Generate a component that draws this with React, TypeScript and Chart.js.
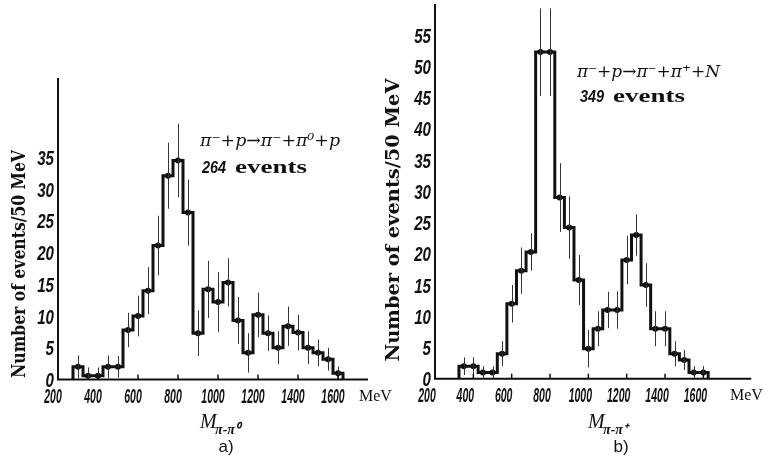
import React, { useEffect, useRef } from "react";
import { Chart, registerables } from "chart.js";

Chart.register(...registerables);

// ---------------- DATA ----------------
const BIN_WIDTH = 50; // MeV

// a) pi- p -> pi- pi0 p
const leftCenters = [300, 350, 400, 450, 500, 550, 600, 650, 700, 750, 800, 850, 900, 950, 1000, 1050, 1100, 1150, 1200, 1250, 1300, 1350, 1400, 1450, 1500, 1550, 1600];
const leftCounts = [2, 0.6, 0.6, 2, 2, 7.8, 10, 14, 21.1, 32.1, 34.5, 26.3, 7.3, 14.2, 12.2, 15.3, 9.3, 4.2, 10.2, 7.3, 5, 8.4, 7.4, 5, 4.2, 3.2, 1];
const leftErrors = [1.8, 1.3, 1.3, 1.8, 1.7, 2.7, 3.2, 3.7, 4.7, 5.2, 5.8, 5.2, 3.6, 4.5, 4.7, 3.8, 3.7, 3.1, 3.5, 2.8, 2.6, 3.1, 2.8, 2.6, 2.1, 1.8, 1.0];

// b) pi- p -> pi- pi+ N
const rightCenters = [350, 400, 450, 500, 550, 600, 650, 700, 750, 800, 850, 900, 950, 1000, 1050, 1100, 1150, 1200, 1250, 1300, 1350, 1400, 1450, 1500, 1550, 1600];
const rightCounts = [2, 2, 1, 1, 4, 12, 17.3, 20.3, 52.3, 52.3, 29, 24.2, 15.8, 4.8, 8, 11, 11, 19, 23, 15, 8, 8, 4, 3, 1, 1];
const rightErrors = [1.4, 1.4, 1, 1, 2, 3, 3.7, 3, 7, 7, 5.5, 5, 4, 3, 2.8, 2.9, 3, 3.9, 3.3, 3.5, 2.8, 2.8, 2, 1.6, 1, 1];

const xTickValues = [200, 400, 600, 800, 1000, 1200, 1400, 1600];
const leftYTicks = [0, 5, 10, 15, 20, 25, 30, 35];
const rightYTicks = [0, 5, 10, 15, 20, 25, 30, 35, 40, 45, 50, 55];

const yTitle = "Number of events/50 MeV";
const leftReaction = "π⁻+p→π⁻+π⁰+p";
const rightReaction = "π⁻+p→π⁻+π⁺+N";
const leftEvents = "264";
const rightEvents = "349";
const leftSub = "π-π⁰";
const rightSub = "π-π⁺";

// ---------------- HELPERS ----------------
function histPoints(centers: number[], counts: number[]) {
  const pts: { x: number; y: number }[] = [];
  const h = BIN_WIDTH / 2;
  pts.push({ x: centers[0] - h, y: 0 });
  centers.forEach((c, i) => {
    pts.push({ x: c - h, y: counts[i] });
    pts.push({ x: c + h, y: counts[i] });
  });
  pts.push({ x: centers[centers.length - 1] + h, y: 0 });
  return pts;
}

function scaledText(ctx: CanvasRenderingContext2D, text: string, x: number, y: number, font: string, sx: number, align: CanvasTextAlign, baseline: CanvasTextBaseline = "alphabetic") {
  ctx.save();
  ctx.translate(x, y);
  ctx.scale(sx, 1);
  ctx.font = font;
  ctx.textAlign = align;
  ctx.textBaseline = baseline;
  ctx.fillText(text, 0, 0);
  ctx.restore();
}

function fitText(ctx: CanvasRenderingContext2D, text: string, x: number, y: number, font: string, width: number) {
  ctx.save();
  ctx.font = font;
  const w = ctx.measureText(text).width;
  ctx.translate(x, y);
  ctx.scale(width / w, 1);
  ctx.textAlign = "left";
  ctx.textBaseline = "alphabetic";
  ctx.fillText(text, 0, 0);
  ctx.restore();
}

type PanelStyle = {
  yTicks: number[];
  centers: number[];
  counts: number[];
  errors: number[];
  xLabelShift: number;
  titleX: number;
  titleY: number;
  titleLen: number;
  reaction: string;
  reactionX: number;
  reactionY: number;
  reactionW: number;
  events: string;
  eventsX: number;
  eventsY: number;
  sub: string;
  mX: number;
  mY: number;
  letter: string;
  letterX: number;
  letterY: number;
  mevX: number;
};

const DIGIT_FONT = "italic bold 21px 'Liberation Sans'";

function makePlugin(p: PanelStyle) {
  return {
    id: "decor",
    afterDatasetsDraw(chart: any) {
      const ctx: CanvasRenderingContext2D = chart.ctx;
      const xs = chart.scales.x;
      const ys = chart.scales.y;
      const a = chart.chartArea;
      ctx.save();
      ctx.fillStyle = "#111";
      // error bars
      ctx.lineWidth = 1;
      ctx.strokeStyle = "#333";
      p.centers.forEach((c, i) => {
        const px = Math.round(xs.getPixelForValue(c)) + 0.5;
        const top = Math.max(a.top, ys.getPixelForValue(p.counts[i] + p.errors[i]));
        const bot = ys.getPixelForValue(Math.max(0, p.counts[i] - p.errors[i]));
        ctx.beginPath();
        ctx.moveTo(px, top);
        ctx.lineTo(px, bot);
        ctx.stroke();
      });
      // axes
      ctx.strokeStyle = "#111";
      ctx.lineWidth = 2;
      ctx.beginPath();
      ctx.moveTo(a.left, a.top);
      ctx.lineTo(a.left, a.bottom);
      ctx.lineTo(a.right, a.bottom);
      ctx.stroke();
      // x tick marks (inward)
      ctx.lineWidth = 1.5;
      xTickValues.forEach((v) => {
        if (v === xs.min) return;
        const px = xs.getPixelForValue(v);
        ctx.beginPath();
        ctx.moveTo(px, a.bottom);
        ctx.lineTo(px, a.bottom - 5);
        ctx.stroke();
      });
      // x tick labels
      xTickValues.forEach((v) => {
        const px = xs.getPixelForValue(v) + p.xLabelShift;
        scaledText(ctx, String(v), px, a.bottom + 23, DIGIT_FONT, 0.5, "center");
      });
      scaledText(ctx, "MeV", p.mevX, a.bottom + 21, "16px 'Liberation Serif'", 1, "left");
      // y tick labels
      p.yTicks.forEach((v) => {
        const py = ys.getPixelForValue(v);
        scaledText(ctx, String(v), a.left - 4, py + 7.5, DIGIT_FONT, 0.72, "right", "alphabetic");
      });
      // y title
      ctx.save();
      ctx.translate(p.titleX, p.titleY);
      ctx.rotate(-Math.PI / 2);
      ctx.font = "bold 19px 'DejaVu Serif'";
      const tw = ctx.measureText(yTitle).width;
      ctx.scale(p.titleLen / tw, 1);
      ctx.textAlign = "center";
      ctx.textBaseline = "middle";
      ctx.fillText(yTitle, 0, 0);
      ctx.restore();
      // reaction annotation
      fitText(ctx, p.reaction, p.reactionX, p.reactionY, "italic 17px 'DejaVu Serif'", p.reactionW);
      scaledText(ctx, p.events, p.eventsX, p.eventsY, "italic bold 17px 'Liberation Sans'", 0.85, "left");
      fitText(ctx, "events", p.eventsX + 33, p.eventsY, "bold 18px 'Liberation Serif'", 72);
      // axis variable M_{...}
      scaledText(ctx, "M", p.mX, p.mY, "italic 20px 'Liberation Serif'", 1, "left");
      scaledText(ctx, p.sub, p.mX + 15, p.mY + 6, "italic bold 14px 'Liberation Serif'", 1, "left");
      // panel letter
      scaledText(ctx, p.letter, p.letterX, p.letterY, "17px 'Liberation Sans'", 1, "center");
      ctx.restore();
    },
  };
}

function buildChart(canvas: HTMLCanvasElement, p: PanelStyle, pad: any, xMax: number, yMax: number) {
  return new Chart(canvas, {
    type: "scatter",
    data: {
      datasets: [
        {
          type: "line",
          data: histPoints(p.centers, p.counts),
          borderColor: "#111",
          borderWidth: 3,
          pointRadius: 0,
          fill: false,
          tension: 0,
          borderJoinStyle: "miter",
        } as any,
        {
          type: "scatter",
          data: p.centers.map((c, i) => ({ x: c, y: p.counts[i] })),
          pointRadius: 3,
          pointBackgroundColor: "#111",
          pointBorderWidth: 0,
        } as any,
      ],
    },
    options: {
      animation: false,
      responsive: false,
      events: [],
      layout: { padding: pad },
      scales: {
        x: { type: "linear", min: 200, max: xMax, display: false },
        y: { type: "linear", min: 0, max: yMax, display: false },
      },
      plugins: { legend: { display: false }, tooltip: { enabled: false } },
    },
    plugins: [makePlugin(p)],
  } as any);
}

export default function App() {
  const leftRef = useRef<HTMLCanvasElement>(null);
  const rightRef = useRef<HTMLCanvasElement>(null);

  useEffect(() => {
    const left = buildChart(
      leftRef.current!,
      {
        yTicks: leftYTicks,
        centers: leftCenters,
        counts: leftCounts,
        errors: leftErrors,
        xLabelShift: -5,
        titleX: 20,
        titleY: 264,
        titleLen: 228,
        reaction: leftReaction,
        reactionX: 200,
        reactionY: 146,
        reactionW: 140,
        events: leftEvents,
        eventsX: 202,
        eventsY: 173,
        sub: leftSub,
        mX: 200,
        mY: 428,
        letter: "a)",
        letterX: 226,
        letterY: 452,
        mevX: 359,
      },
      { left: 58, top: 78, right: 32, bottom: 80.5 },
      1750,
      47.5
    );
    const right = buildChart(
      rightRef.current!,
      {
        yTicks: rightYTicks,
        centers: rightCenters,
        counts: rightCounts,
        errors: rightErrors,
        xLabelShift: -8,
        titleX: 14,
        titleY: 220,
        titleLen: 283,
        reaction: rightReaction,
        reactionX: 197,
        reactionY: 77,
        reactionW: 143,
        events: rightEvents,
        eventsX: 200,
        eventsY: 102,
        sub: rightSub,
        mX: 208,
        mY: 428,
        letter: "b)",
        letterX: 241,
        letterY: 452,
        mevX: 350,
      },
      { left: 55, top: 0, right: 13.7, bottom: 81.3 },
      1850,
      60
    );
    return () => {
      left.destroy();
      right.destroy();
    };
  }, []);

  return (
    <div style={{ position: "fixed", left: 0, top: 0, width: 765, height: 460, background: "#fff" }}>
      <canvas ref={leftRef} width={400} height={460} style={{ position: "absolute", left: 0, top: 0, width: 400, height: 460 }} />
      <canvas ref={rightRef} width={385} height={460} style={{ position: "absolute", left: 380, top: 0, width: 385, height: 460 }} />
    </div>
  );
}
